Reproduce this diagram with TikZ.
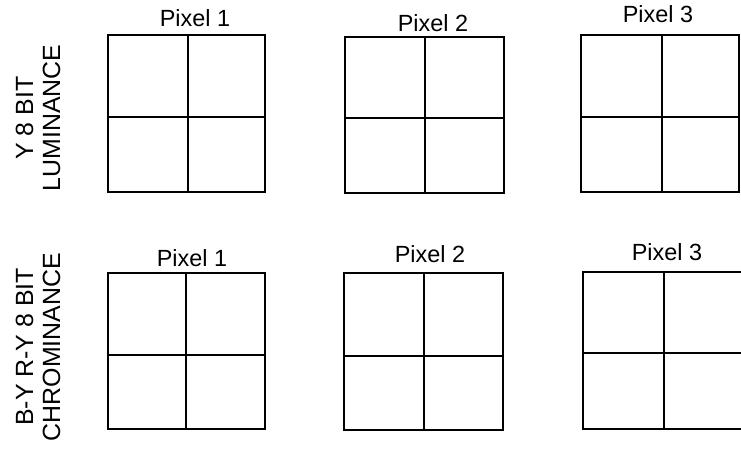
\documentclass[tikz,border=0pt]{standalone}
\usepackage{fontspec}
\setmainfont{Liberation Sans}
\begin{document}
\begin{tikzpicture}[x=1bp,y=-1bp,
  cellline/.style={line width=1.6bp,black},
  pixlabel/.style={anchor=base,inner sep=0pt,font=\fontsize{23.5}{27}\selectfont},
  sidelabel/.style={rotate=90,align=center,inner sep=0pt,font=\fontsize{25}{27}\selectfont}]
\useasboundingbox[fill=white] (0,0) rectangle (741,450);
% grids: x1,y1,x2,y2,mx,my
\foreach \xa/\ya/\xb/\yb/\mx/\my in {
  108/35/265/192/188/117,
  345/37/504/193/425/118,
  581/35/739/192/662/117,
  108/273/265/429/186/355,
  344/273/503/430/424/356,
  583/272/745/429/664/353}{
  \draw[cellline] (\xa,\ya) rectangle (\xb,\yb);
  \draw[cellline] (\mx,\ya) -- (\mx,\yb);
  \draw[cellline] (\xa,\my) -- (\xb,\my);
}
\node[pixlabel] (t1) at (195,27) {Pixel 1};
\node[pixlabel] (t2) at (433,32) {Pixel 2};
\node[pixlabel] (t3) at (658,23) {Pixel 3};
\node[pixlabel] (b1) at (192,267) {Pixel 1};
\node[pixlabel] (b2) at (430,263) {Pixel 2};
\node[pixlabel] (b3) at (667,261) {Pixel 3};
\node[sidelabel] (lum) at (38,118) {Y 8 BIT\\LUMINANCE};
\node[sidelabel] (chr) at (38,347) {B-Y R-Y 8 BIT\\CHROMINANCE};
\end{tikzpicture}
\end{document}
